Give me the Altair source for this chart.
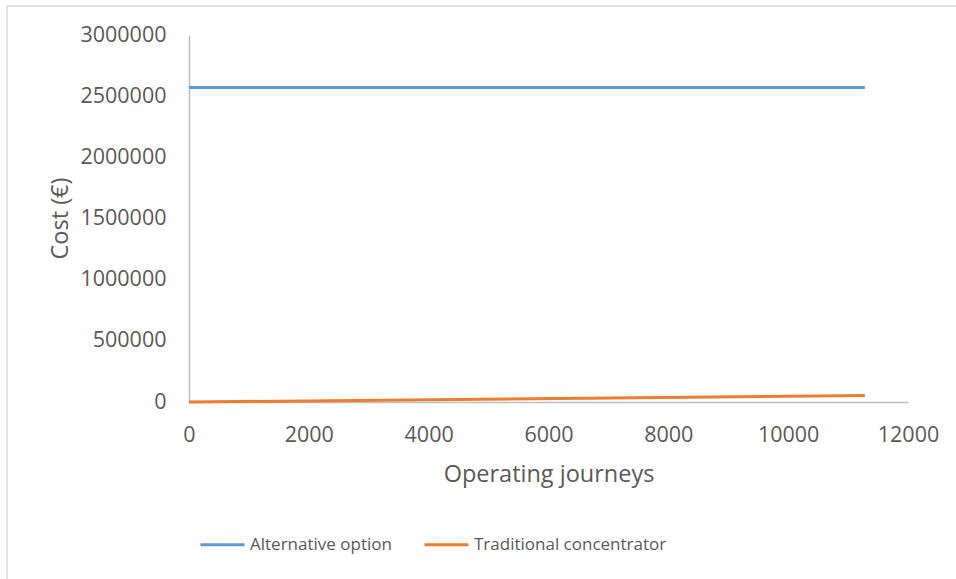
import altair as alt
import pandas as pd

# Operating journeys at the start and end of each series
journeys_alt = [0, 11280]
journeys_trad = [0, 11280]
# Cumulative cost (€)
cost_alt = [2570000, 2570000]
cost_trad = [0, 53000]

series_names = ["Alternative option", "Traditional concentrator"]
series_colors = ["#5B9BD5", "#ED7D31"]
x_ticks = [0, 2000, 4000, 6000, 8000, 10000, 12000]
y_ticks = [0, 500000, 1000000, 1500000, 2000000, 2500000, 3000000]

df = pd.concat([
    pd.DataFrame({"journeys": journeys_alt, "cost": cost_alt, "series": series_names[0]}),
    pd.DataFrame({"journeys": journeys_trad, "cost": cost_trad, "series": series_names[1]}),
])

FONT = "Open Sans"
TEXT = "#595959"

# light outer frame around the whole chart
frame = alt.Chart(pd.DataFrame({"k": [0]})).mark_rect(
    fill=None, stroke="#D9D9D9", strokeWidth=1.5
).encode(
    x=alt.value(-182), x2=alt.value(800),
    y=alt.value(-29), y2=alt.value(600),
)

lines = alt.Chart(df).mark_line(strokeWidth=3).encode(
    x=alt.X("journeys:Q",
            scale=alt.Scale(domain=[0, 12000], nice=False),
            axis=alt.Axis(values=x_ticks, title="Operating journeys", grid=False,
                          ticks=False, domainColor="#BFBFBF", domainWidth=1.5,
                          labelPadding=22, labelFlush=False, titlePadding=17,
                          format="d", labelFontSize=21.5, titleFontSize=23.5)),
    y=alt.Y("cost:Q",
            scale=alt.Scale(domain=[0, 3000000], nice=False),
            axis=alt.Axis(values=y_ticks, title="Cost (€)", grid=False,
                          ticks=False, domainColor="#BFBFBF", domainWidth=1.5,
                          labelPadding=23, format="d", labelFontSize=21.5,
                          titleFontSize=23.5,
                          titleX=-129, titleY=183, titleAlign="center",
                          titleBaseline="middle")),
    color=alt.Color("series:N",
                    scale=alt.Scale(domain=series_names, range=series_colors),
                    legend=alt.Legend(title=None, orient="none", direction="horizontal",
                                      legendX=10, legendY=486,
                                      symbolType="stroke", symbolSize=1936,
                                      symbolStrokeWidth=3, labelOffset=4,
                                      columnPadding=26, labelLimit=400)),
)

chart = alt.layer(frame, lines).properties(
    width=719, height=367,
    autosize=alt.AutoSizeParams(type="none"),
    padding={"left": 189, "top": 35, "right": 48, "bottom": 177},
).configure_view(stroke=None).configure_axis(
    labelFont=FONT, titleFont=FONT, labelColor=TEXT, titleColor=TEXT,
    titleFontWeight="normal",
).configure_legend(
    labelFont=FONT, labelColor=TEXT, labelFontSize=17,
)

chart.save("out.html", embed_options={"renderer": "svg", "actions": False})
